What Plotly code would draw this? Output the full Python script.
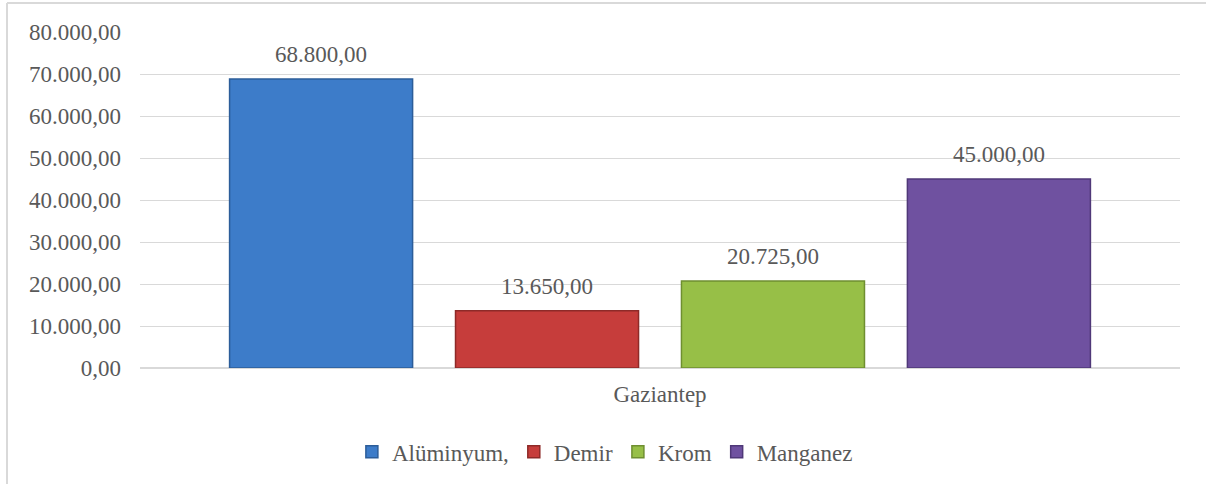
import plotly.graph_objects as go

# chart data
categories = ["Gaziantep"]
series_names = ["Alüminyum,", "Demir", "Krom", "Manganez"]
series_values = [[68800], [13650], [20725], [45000]]
y_ticks = [0, 10000, 20000, 30000, 40000, 50000, 60000, 70000, 80000]

face_colors = ["#3d7cc9", "#c63d3b", "#97bf47", "#6f51a0"]
edge_colors = ["#2c5d99", "#8e2a28", "#6f8f30", "#4f3878"]

FONT = "Liberation Serif, Times New Roman, serif"
GREY = "#595959"
BARGAP = 0.131
GROUPGAP = 0.19

fig = go.Figure()
for name, vals, fc, ec in zip(series_names, series_values, face_colors, edge_colors):
    fig.add_trace(go.Bar(
        x=categories, y=vals, name=name,
        marker=dict(color=fc, line=dict(color=ec, width=1.5)),
    ))

# value labels above the bars, a bit higher than plotly's "outside" text
n = len(series_names)
slot = (1 - BARGAP) / n
for i, vals in enumerate(series_values):
    for j, v in enumerate(vals):
        fig.add_annotation(
            x=j - (1 - BARGAP) / 2 + slot * (i + 0.5), y=v, xref="x", yref="y",
            text=f"{v:,.2f}".replace(",", "X").replace(".", ",").replace("X", "."),
            showarrow=False, yanchor="bottom", yshift=10,
            font=dict(family=FONT, size=23, color=GREY),
        )

# chart-area frame (only left and top edges are visible in the source)
frame = dict(color="#d9d9d9", width=2)
fig.add_shape(type="line", xref="paper", yref="paper",
              x0=-0.1279, x1=-0.1279, y0=-0.4, y1=1.086, line=frame, layer="below")
fig.add_shape(type="line", xref="paper", yref="paper",
              x0=-0.1279, x1=1.03, y0=1.086, y1=1.086, line=frame, layer="below")

fig.update_layout(
    width=1206, height=484,
    margin=dict(l=140, r=26, t=32, b=115),
    paper_bgcolor="white", plot_bgcolor="white",
    separators=",.",
    barmode="group", bargap=BARGAP, bargroupgap=GROUPGAP,
    font=dict(family=FONT, size=23, color=GREY),
    showlegend=True,
    legend=dict(orientation="h", x=0.447, xanchor="center", y=-0.246, yanchor="middle",
                font=dict(family=FONT, size=23, color=GREY), itemwidth=30,
                tracegroupgap=0),
    xaxis=dict(showgrid=False, showline=False, ticks="", ticklabelstandoff=10),
    yaxis=dict(range=[0, 80000], tickvals=y_ticks, tickformat=",.2f",
               showgrid=True, gridcolor="#d9d9d9", gridwidth=1,
               zeroline=True, zerolinecolor="#d9d9d9", zerolinewidth=2,
               showline=False, ticks="", ticklabelstandoff=18),
)

fig.write_html("out.html", config={"displayModeBar": False},
               post_script="document.body.style.margin='0';")
